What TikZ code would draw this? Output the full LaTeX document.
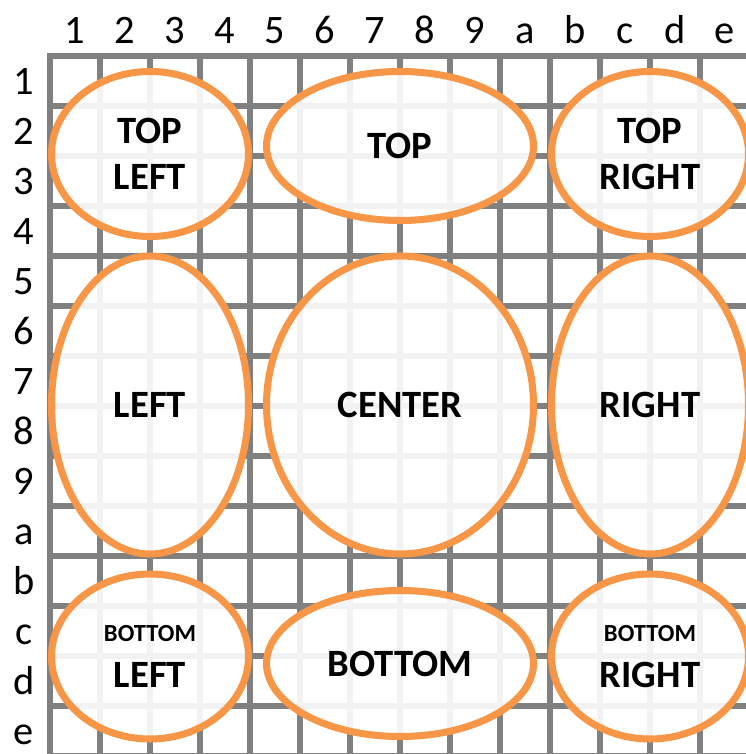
\documentclass[tikz,border=0pt]{standalone}
\usepackage{fontspec}
\setmainfont{Carlito}
\usetikzlibrary{shapes.geometric}
\definecolor{gridgray}{HTML}{808080}
\definecolor{ringorange}{HTML}{F79646}

\begin{document}
\begin{tikzpicture}[
    gridline/.style={draw=gridgray, line width=3pt, line cap=rect},
    region/.style={ellipse, draw=ringorange, line width=4pt, fill=white, fill opacity=0.9, text opacity=1, align=center, inner sep=0pt, font=\fontsize{22}{26.5}\selectfont\bfseries},
    cornerbox/.style={region, minimum width=3.94cm, minimum height=3.3cm},
    sidebox/.style={region, minimum width=3.94cm, minimum height=5.96cm},
    midbox/.style={region, minimum width=5.34cm},
    ticklabel/.style={font=\fontsize{23}{23}\selectfont, anchor=base}
  ]
    \useasboundingbox (-1,1.12) rectangle (13.9,-13.96);
    % background grid with its axis labels
    \draw[gridline] (0,0) grid (14,-14);
    \foreach \lab [count=\i] in {1,2,3,4,5,6,7,8,9,a,b,c,d,e} {
      \node[ticklabel] (col\i) at (\i-0.5,0.24) {\lab};
      \node[ticklabel] (row\i) at (-0.52,-\i+0.23) {\lab};
    }
    % top row
    \node[cornerbox] (topleft) at (2,-1.96) {TOP\\LEFT};
    \node[midbox, minimum height=2.98cm] (top) at (7,-1.8) {TOP};
    \node[cornerbox] (topright) at (12,-1.96) {TOP\\RIGHT};
    % middle row
    \node[sidebox] (left) at (2,-6.98) {LEFT};
    \node[midbox, minimum height=5.96cm] (center) at (7,-6.98) {CENTER};
    \node[sidebox] (right) at (12,-6.98) {RIGHT};
    % bottom row
    \node[cornerbox] (bottomleft) at (2,-12.01) {{\fontsize{14}{16}\selectfont BOTTOM}\\LEFT};
    \node[midbox, minimum height=2.92cm] (bottom) at (7,-12.15) {BOTTOM};
    \node[cornerbox] (bottomright) at (12,-12.01) {{\fontsize{14}{16}\selectfont BOTTOM}\\RIGHT};
  \end{tikzpicture}
\end{document}
